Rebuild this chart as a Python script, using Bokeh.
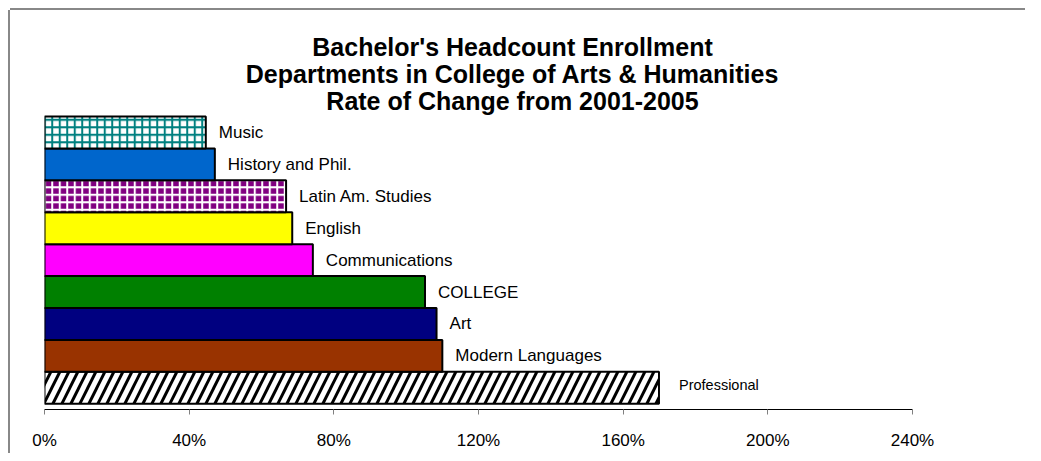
from bokeh.plotting import figure
from bokeh.layouts import column
from bokeh.models import Range1d, Label, NumeralTickFormatter, ColumnDataSource
from bokeh.embed import file_html
from bokeh.resources import INLINE
from bokeh.core.properties import value

# ---- data ----
departments = ["Professional", "Modern Languages", "Art", "COLLEGE", "Communications",
               "English", "Latin Am. Studies", "History and Phil.", "Music"]
rate_of_change = [1.699, 1.100, 1.084, 1.052, 0.742, 0.685, 0.668, 0.471, 0.446]
x_ticks = [0, 0.4, 0.8, 1.2, 1.6, 2.0, 2.4]
title_lines = ["Bachelor's Headcount Enrollment",
               "Departments in College of Arts & Humanities",
               "Rate of Change from 2001-2005"]

# ---- styles ----
fill_colors = ["#FFFFFF", "#993300", "#000080", "#008000", "#FF00FF",
               "#FFFF00", "#800080", "#0066CC", "#FFFFFF"]
hatch_patterns = ["/", " ", " ", " ", " ", " ", "+", " ", "+"]
hatch_colors = ["#000000", "#000000", "#000000", "#000000", "#000000",
                "#000000", "#FFFFFF", "#000000", "#008080"]
hatch_scales = [18, 8, 8, 8, 8, 8, 7.5, 8, 7.5]
hatch_weights = [3, 1, 1, 1, 1, 1, 2, 1, 2]

FONT = value("Liberation Sans")

positions = list(range(len(departments)))

bars = ColumnDataSource(dict(
    pos=positions, value=rate_of_change, dept=departments,
    fill=fill_colors, hp=hatch_patterns, hc=hatch_colors, hs=hatch_scales, hw=hatch_weights,
))
labels_main = ColumnDataSource(dict(pos=positions[1:], value=rate_of_change[1:], dept=departments[1:]))
labels_small = ColumnDataSource(dict(pos=positions[:1], value=rate_of_change[:1], dept=departments[:1]))

p = figure(width=1015, height=443,
           x_range=Range1d(0, 2.4), y_range=Range1d(-0.679, 11.508),
           y_axis_location=None, output_backend="svg", toolbar_location=None,
           min_border_left=34, min_border_right=113, min_border_top=10, min_border_bottom=44)
p.outline_line_color = None
p.grid.visible = False
p.background_fill_color = "#FFFFFF"
p.border_fill_color = "#FFFFFF"

p.hbar(y="pos", left=0, right="value", height=1.0, source=bars,
       fill_color="fill", line_color="#000000", line_width=2,
       hatch_pattern="hp", hatch_color="hc", hatch_scale="hs", hatch_weight="hw")

p.text(x="value", y="pos", text="dept", source=labels_main, x_offset=13,
       text_baseline="middle", text_align="left", text_font=FONT,
       text_font_size="17px", text_color="#000000")
p.text(x="value", y="pos", text="dept", source=labels_small, x_offset=20, y_offset=-3,
       text_baseline="middle", text_align="left", text_font=FONT,
       text_font_size="14.5px", text_color="#000000")

title_y = [10.693, 9.847, 9.001]
for line, ty in zip(title_lines, title_y):
    p.add_layout(Label(x=1.294, y=ty, text=line, text_align="center",
                       text_baseline="alphabetic", text_font="Liberation Sans",
                       text_font_style="bold", text_font_size="25px", text_color="#000000"))

ax = p.xaxis[0]
ax.ticker = x_ticks
ax.formatter = NumeralTickFormatter(format="0%")
ax.axis_line_color = "#000000"
ax.axis_line_width = 1
ax.major_tick_line_color = "#808080"
ax.major_tick_out = 5
ax.major_tick_in = 0
ax.minor_tick_line_color = None
ax.major_label_standoff = 16
ax.major_label_text_font = "Liberation Sans"
ax.major_label_text_font_size = "17px"
ax.major_label_text_color = "#000000"

layout = column(p, styles={"margin-left": "10px", "margin-top": "10px",
                           "box-shadow": "0px -2px 0px 0px #888888, -2px 0px 0px 0px #888888",
                           "background-color": "#FFFFFF"})

open("out.html", "w").write(file_html(layout, INLINE))
